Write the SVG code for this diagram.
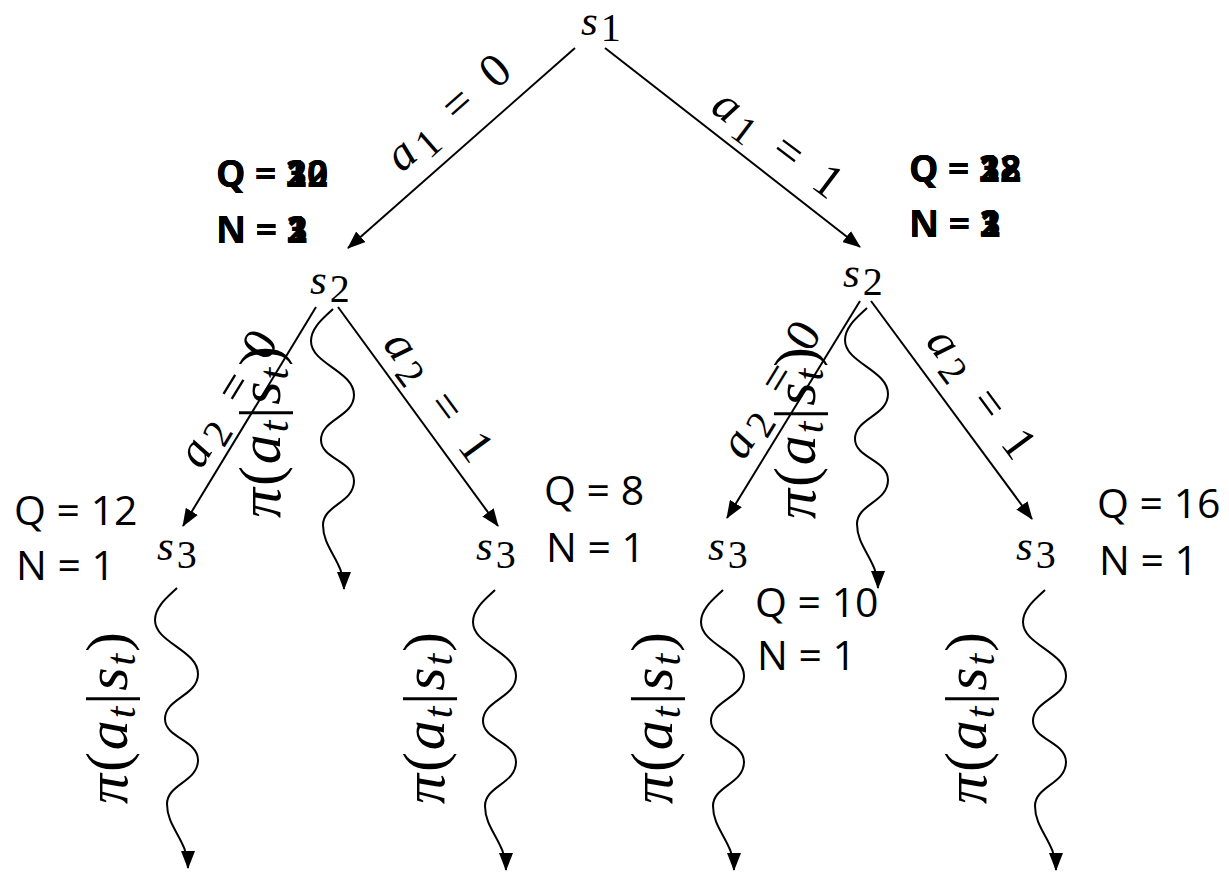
<svg xmlns="http://www.w3.org/2000/svg" width="1229" height="880" viewBox="0 0 1229 880">
  <style>
    .m { font-family: "Liberation Serif", "DejaVu Serif", "Open Sans", sans-serif; font-weight: 300; fill: #000; }
    .i { font-style: italic; }
    .node { font-size: 43px; }
    .sub { font-size: 40px; font-style: normal; }
    .edge-lbl { font-size: 48px; }
    .pi { font-size: 60px; }
    .qn { font-family: "Open Sans", "Liberation Sans", sans-serif; font-size: 41px; fill: #000; }
    .qnb { font-family: "Open Sans", "Liberation Sans", sans-serif; font-size: 37px; font-weight: bold; fill: #000; }
    .edge { stroke: #000; stroke-width: 2; fill: none; marker-end: url(#ah); }
  </style>
  <defs>
    <marker id="ah" viewBox="0 0 18 14" refX="17" refY="7" markerWidth="18" markerHeight="14" markerUnits="userSpaceOnUse" orient="auto">
      <path d="M0,0 L18,7 L0,14 z" fill="#000"/>
    </marker>
    <!-- rollout squiggle, starting at the origin and ending at its arrow tip -->
    <path id="wave" class="edge" d="M0,0 C-8,8 -22,18 -22,32 C-22,55 21,62 21,86 C21,108 -12,110 -12,131 C-12,150 21,152 21,172 C21,194 -10,196 -10,216 C-10,240 11,252 11,280"/>
  </defs>

  <rect width="1229" height="880" fill="#fff"/>

  <g id="connectors">
    <line class="edge" x1="575" y1="48" x2="348" y2="248"/>
    <line class="edge" x1="605" y1="48" x2="860" y2="247"/>
    <line class="edge" x1="316" y1="307" x2="183" y2="526"/>
    <line class="edge" x1="338" y1="307" x2="498" y2="526"/>
    <line class="edge" x1="860" y1="301" x2="727" y2="518"/>
    <line class="edge" x1="871" y1="301" x2="1032" y2="519"/>

    <use href="#wave" transform="translate(333,309)"/>
    <use href="#wave" transform="translate(867,308)"/>
    <use href="#wave" transform="translate(177,588)"/>
    <use href="#wave" transform="translate(495,590)"/>
    <use href="#wave" transform="translate(723,590)"/>
    <use href="#wave" transform="translate(1045,590)"/>

    <!-- action labels along the edges -->
    <text class="m edge-lbl" text-anchor="middle" transform="translate(450,115) rotate(-41.4)" y="12" textLength="150" lengthAdjust="spacing"><tspan class="i">a</tspan><tspan class="sub" dy="8">1</tspan><tspan dy="-8"> = 0</tspan></text>
    <text class="m edge-lbl" text-anchor="middle" transform="translate(776,146) rotate(37)" y="12" textLength="150" lengthAdjust="spacing"><tspan class="i">a</tspan><tspan class="sub" dy="8">1</tspan><tspan dy="-8"> = 1</tspan></text>
    <text class="m edge-lbl" text-anchor="middle" transform="translate(230,400) rotate(-58.6)" y="12" textLength="150" lengthAdjust="spacing"><tspan class="i">a</tspan><tspan class="sub" dy="8">2</tspan><tspan dy="-8"> = 0</tspan></text>
    <text class="m edge-lbl" text-anchor="middle" transform="translate(436,398) rotate(53.8)" y="12" textLength="150" lengthAdjust="spacing"><tspan class="i">a</tspan><tspan class="sub" dy="8">2</tspan><tspan dy="-8"> = 1</tspan></text>
    <text class="m edge-lbl" text-anchor="middle" transform="translate(773,391) rotate(-58.5)" y="12" textLength="150" lengthAdjust="spacing"><tspan class="i">a</tspan><tspan class="sub" dy="8">2</tspan><tspan dy="-8"> = 0</tspan></text>
    <text class="m edge-lbl" text-anchor="middle" transform="translate(979,395) rotate(53.6)" y="12" textLength="150" lengthAdjust="spacing"><tspan class="i">a</tspan><tspan class="sub" dy="8">2</tspan><tspan dy="-8"> = 1</tspan></text>

    <!-- rollout policy labels -->
    <text class="m pi" text-anchor="middle" transform="translate(266,432) rotate(-90)" y="14" textLength="172" lengthAdjust="spacing"><tspan class="i">π</tspan>(<tspan class="i">a</tspan><tspan class="i" font-size="42" dy="8">t</tspan><tspan dy="-8">|</tspan><tspan class="i">s</tspan><tspan class="i" font-size="42" dy="8">t</tspan><tspan dy="-8">)</tspan></text>
    <text class="m pi" text-anchor="middle" transform="translate(801,433) rotate(-90)" y="14" textLength="172" lengthAdjust="spacing"><tspan class="i">π</tspan>(<tspan class="i">a</tspan><tspan class="i" font-size="42" dy="8">t</tspan><tspan dy="-8">|</tspan><tspan class="i">s</tspan><tspan class="i" font-size="42" dy="8">t</tspan><tspan dy="-8">)</tspan></text>
    <text class="m pi" text-anchor="middle" transform="translate(113,718) rotate(-90)" y="14" textLength="172" lengthAdjust="spacing"><tspan class="i">π</tspan>(<tspan class="i">a</tspan><tspan class="i" font-size="42" dy="8">t</tspan><tspan dy="-8">|</tspan><tspan class="i">s</tspan><tspan class="i" font-size="42" dy="8">t</tspan><tspan dy="-8">)</tspan></text>
    <text class="m pi" text-anchor="middle" transform="translate(430,718) rotate(-90)" y="14" textLength="172" lengthAdjust="spacing"><tspan class="i">π</tspan>(<tspan class="i">a</tspan><tspan class="i" font-size="42" dy="8">t</tspan><tspan dy="-8">|</tspan><tspan class="i">s</tspan><tspan class="i" font-size="42" dy="8">t</tspan><tspan dy="-8">)</tspan></text>
    <text class="m pi" text-anchor="middle" transform="translate(658,718) rotate(-90)" y="14" textLength="172" lengthAdjust="spacing"><tspan class="i">π</tspan>(<tspan class="i">a</tspan><tspan class="i" font-size="42" dy="8">t</tspan><tspan dy="-8">|</tspan><tspan class="i">s</tspan><tspan class="i" font-size="42" dy="8">t</tspan><tspan dy="-8">)</tspan></text>
    <text class="m pi" text-anchor="middle" transform="translate(972,718) rotate(-90)" y="14" textLength="172" lengthAdjust="spacing"><tspan class="i">π</tspan>(<tspan class="i">a</tspan><tspan class="i" font-size="42" dy="8">t</tspan><tspan dy="-8">|</tspan><tspan class="i">s</tspan><tspan class="i" font-size="42" dy="8">t</tspan><tspan dy="-8">)</tspan></text>

    <!-- rollout result -->
    <text class="qn" x="755" y="617">Q = 10</text>
    <text class="qn" x="757" y="670">N = 1</text>
  </g>

  <g id="s1">
    <text class="m node" x="581" y="35"><tspan class="i">s</tspan><tspan class="sub" dx="3" dy="6">1</tspan></text>
  </g>

  <g id="s2-left">
    <text class="m node" x="310" y="294"><tspan class="i">s</tspan><tspan class="sub" dx="3" dy="8">2</tspan></text>
    <!-- successive visit statistics, drawn on top of each other -->
    <text class="qnb" x="216" y="187">Q = 10</text>
    <text class="qnb" x="216" y="187">Q = 22</text>
    <text class="qnb" x="216" y="187">Q = 30</text>
    <text class="qnb" x="216" y="243">N = 1</text>
    <text class="qnb" x="216" y="243">N = 2</text>
    <text class="qnb" x="216" y="243">N = 3</text>
  </g>

  <g id="s2-right">
    <text class="m node" x="843" y="287"><tspan class="i">s</tspan><tspan class="sub" dx="3" dy="8">2</tspan></text>
    <text class="qnb" x="909" y="182">Q = 12</text>
    <text class="qnb" x="909" y="182">Q = 22</text>
    <text class="qnb" x="909" y="182">Q = 38</text>
    <text class="qnb" x="909" y="237">N = 1</text>
    <text class="qnb" x="909" y="237">N = 2</text>
    <text class="qnb" x="909" y="237">N = 3</text>
  </g>

  <g id="s3-a">
    <text class="m node" x="157" y="560"><tspan class="i">s</tspan><tspan class="sub" dx="3" dy="8">3</tspan></text>
    <text class="qn" x="14" y="525">Q = 12</text>
    <text class="qn" x="16" y="580">N = 1</text>
  </g>

  <g id="s3-b">
    <text class="m node" x="476" y="560"><tspan class="i">s</tspan><tspan class="sub" dx="3" dy="8">3</tspan></text>
    <text class="qn" x="544" y="505">Q = 8</text>
    <text class="qn" x="546" y="562">N = 1</text>
  </g>

  <g id="s3-c">
    <text class="m node" x="708" y="560"><tspan class="i">s</tspan><tspan class="sub" dx="3" dy="8">3</tspan></text>
  </g>

  <g id="s3-d">
    <text class="m node" x="1016" y="560"><tspan class="i">s</tspan><tspan class="sub" dx="3" dy="8">3</tspan></text>
    <text class="qn" x="1097" y="518">Q = 16</text>
    <text class="qn" x="1099" y="575">N = 1</text>
  </g>
</svg>
